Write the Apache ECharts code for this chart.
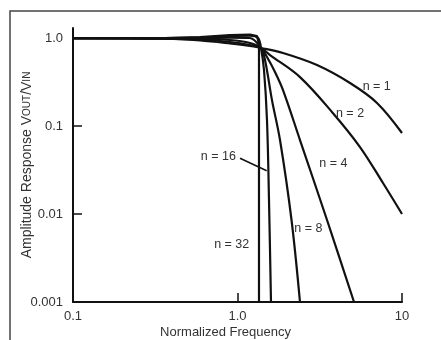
<!DOCTYPE html>
<html>
<head>
<meta charset="utf-8">
<script src="https://cdn.jsdelivr.net/npm/echarts@6/dist/echarts.min.js"></script>
<style>
  html, body { margin: 0; padding: 0; background: #fff; }
  #chart { width: 441px; height: 340px; }
</style>
</head>
<body>
<div id="chart"></div>
<script>
// normalized frequency vs amplitude response
const n1 = [[0.1, 1], [0.362, 0.982], [0.592, 0.937], [0.9, 0.866], [1.191, 0.811], [1.389, 0.77], [1.891, 0.675], [3.043, 0.493], [4.83, 0.308], [7.047, 0.183], [10, 0.0833]];
const n2 = [[0.1, 1], [0.362, 0.987], [0.592, 0.962], [0.9, 0.901], [1.191, 0.833], [1.389, 0.77], [1.576, 0.641], [2.398, 0.36], [3.807, 0.14], [5.556, 0.0577], [7.664, 0.0225], [10, 0.01]];
const n4 = [[0.1, 1], [0.362, 0.992], [0.592, 0.979], [0.9, 0.949], [1.191, 0.877], [1.389, 0.77], [1.511, 0.608], [1.69, 0.411], [1.891, 0.256], [2.398, 0.0693], [3.501, 0.00855], [5.108, 0.001]];
const n8 = [[0.1, 1], [0.362, 0.995], [0.592, 1.0], [0.9, 1.013], [1.191, 1.0], [1.389, 0.77], [1.47, 0.562], [1.62, 0.197], [1.813, 0.0693], [2.13, 0.00855], [2.398, 0.001]];
const n16 = [[0.1, 1], [0.362, 1], [0.592, 1.013], [0.9, 1.054], [1.191, 1.067], [1.333, 1.0], [1.389, 0.77], [1.449, 0.433], [1.511, 0.117], [1.554, 0.0144], [1.598, 0.001]];
const n32 = [[0.1, 1], [0.362, 1], [0.592, 1.027], [0.9, 1.082], [1.191, 1.096], [1.314, 1.054], [1.351, 0.85], [1.351, 0.001]];

const seriesNames = ["n = 1", "n = 2", "n = 4", "n = 8", "n = 16", "n = 32"];
const seriesData = [n1, n2, n4, n8, n16, n32];
// where each "n = ..." note sits, in data coordinates
const labelAt = [[7.02, 0.28], [4.83, 0.139], [3.825, 0.0377], [2.697, 0.00687], [0.765, 0.0448], [0.922, 0.00444]];
const leader16 = [[1.036, 0.043], [1.505, 0.031]];

const xTicks = ["0.1", "1.0", "10"];
const yTicks = ["0.001", "0.01", "0.1", "1.0"];

const chart = echarts.init(document.getElementById("chart"));

const textColor = "#333";
const fontFamily = "Liberation Sans, Arial, sans-serif";

const series = seriesData.map((d, i) => {
  const s = {
    name: seriesNames[i],
    type: "line",
    data: d,
    showSymbol: false,
    smooth: i === 5 ? false : 0.35,
    lineStyle: { color: "#111", width: 2.2 },
    markPoint: {
      symbol: "circle",
      symbolSize: 0,
      silent: true,
      label: {
        show: true,
        position: "inside",
        formatter: seriesNames[i],
        color: textColor,
        fontSize: 12.5,
        fontFamily: fontFamily,
      },
      data: [{ coord: labelAt[i] }],
    },
  };
  if (i === 4) {
    s.markLine = {
      symbol: "none",
      silent: true,
      label: { show: false },
      lineStyle: { color: "#111", width: 1.5, type: "solid" },
      data: [[{ coord: leader16[0] }, { coord: leader16[1] }]],
    };
  }
  return s;
});

chart.setOption({
  animation: false,
  backgroundColor: "#fff",
  grid: { left: 73, right: 39, top: 28, bottom: 38, outerBoundsMode: "none" },
  graphic: [
    {
      type: "rect",
      shape: { x: 10, y: 11, width: 460, height: 360 },
      style: { fill: "none", stroke: "#444", lineWidth: 1.5 },
      silent: true,
    },
  ],
  xAxis: {
    type: "log",
    logBase: 10,
    min: 0.1,
    max: 10,
    name: "Normalized Frequency",
    nameLocation: "middle",
    nameGap: 24,
    nameMoveOverlap: false,
    nameTextStyle: { color: textColor, fontSize: 13, fontFamily: fontFamily, padding: [0, 24, 0, 0] },
    axisLine: { lineStyle: { color: "#111", width: 2 } },
    axisTick: { inside: true, length: 9, lineStyle: { color: "#111", width: 1.5 } },
    axisLabel: {
      margin: 8,
      color: textColor,
      fontSize: 13,
      fontFamily: fontFamily,
      formatter: (v) => xTicks[Math.round(Math.log10(v)) + 1],
    },
    splitLine: { show: false },
    minorTick: { show: false },
  },
  yAxis: {
    type: "log",
    logBase: 10,
    min: 0.001,
    max: 1.3,
    name: "{a|Amplitude Response V}{s|OUT}{a|/V}{s|IN}",
    nameLocation: "middle",
    nameGap: 39,
    nameMoveOverlap: false,
    nameTextStyle: {
      color: textColor,
      fontFamily: fontFamily,
      rich: {
        a: { fontSize: 14, color: textColor, fontFamily: fontFamily },
        s: { fontSize: 10, color: textColor, fontFamily: fontFamily },
      },
    },
    axisLine: { lineStyle: { color: "#111", width: 2 } },
    axisTick: {
      inside: true,
      length: 9,
      lineStyle: { color: "#111", width: 1.5 },
      customValues: [0.001, 0.01, 0.1, 1],
    },
    axisLabel: {
      margin: 10,
      color: textColor,
      fontSize: 13,
      fontFamily: fontFamily,
      customValues: [0.001, 0.01, 0.1, 1],
      formatter: (v) => yTicks[Math.round(Math.log10(v)) + 3],
    },
    splitLine: { show: false },
  },
  series: series,
});
</script>
</body>
</html>
